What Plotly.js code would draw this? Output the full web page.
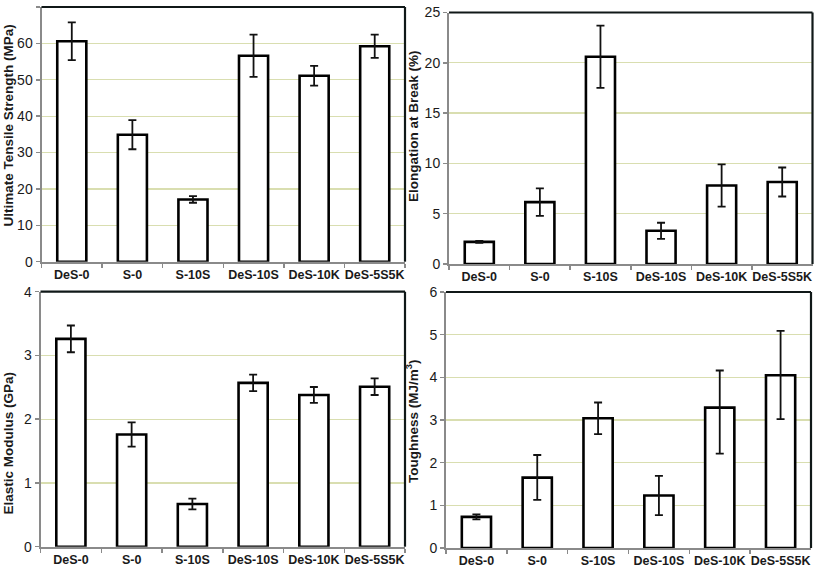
<!DOCTYPE html>
<html><head><meta charset="utf-8">
<script src="https://cdn.plot.ly/plotly-3.0.1.min.js"></script>
<style>html,body{margin:0;padding:0;background:#fff}</style>
</head><body><div id="chart" style="width:817px;height:570px"></div>
<script>
const categories = ['DeS-0','S-0','S-10S','DeS-10S','DeS-10K','DeS-5S5K'];
const strength = [60.6, 34.9, 17.1, 56.6, 51.1, 59.2];
const strengthErr = [5.2, 4.0, 0.9, 5.8, 2.7, 3.2];
const elongation = [2.2, 6.15, 20.6, 3.3, 7.8, 8.15];
const elongationErr = [0.1, 1.37, 3.1, 0.8, 2.1, 1.44];
const modulus = [3.26, 1.76, 0.67, 2.57, 2.38, 2.51];
const modulusErr = [0.21, 0.19, 0.085, 0.13, 0.125, 0.13];
const toughness = [0.73, 1.65, 3.04, 1.23, 3.29, 4.05];
const toughnessErrPlus = [0.06, 0.53, 0.37, 0.46, 0.87, 1.04];
const toughnessErrMinus = [0.06, 0.52, 0.37, 0.46, 1.08, 1.03];

const yTitles = ['Ultimate Tensile Strength (MPa)', 'Elongation at Break (%)', 'Elastic Modulus (GPa)', 'Toughness (MJ/m<sup>3</sup>)'];

const W = 817, H = 570;
// plot boxes in pixels: [left, top, right, bottom]
const boxes = [[41.5,7,405,261.7],[449,12.5,812.5,264],[40.5,291.7,405,546.7],[446,292,811,548]];
const ranges = [[0,70,10],[0,25,5],[0,4,1],[0,6,1]];
const titlePos = [[7.5,126],[413,126],[7.5,443],[412,421]];

function barTrace(vals, errP, errM, i) {
  const s = i === 0 ? '' : String(i+1);
  return {
    type:'bar', x:categories, y:vals, xaxis:'x'+s, yaxis:'y'+s, width:0.48,
    marker:{color:'#ffffff', line:{color:'#000000', width:2.6}},
    error_y:{type:'data', symmetric: errM ? false : true, array:errP, arrayminus: errM || undefined,
      color:'#111111', thickness:1.8, width:4},
    showlegend:false, hoverinfo:'x+y'
  };
}
const data = [
  barTrace(strength, strengthErr, null, 0),
  barTrace(elongation, elongationErr, null, 1),
  barTrace(modulus, modulusErr, null, 2),
  barTrace(toughness, toughnessErrPlus, toughnessErrMinus, 3)
];

const layout = {
  width:W, height:H, margin:{l:0,r:0,t:0,b:0},
  paper_bgcolor:'#fff', plot_bgcolor:'#fff', showlegend:false,
  font:{family:'Liberation Sans, Arial, sans-serif', color:'#1a1a1a'},
  shapes:[], annotations:[]
};
boxes.forEach((b,i)=>{
  const s = i === 0 ? '' : String(i+1);
  const x0=b[0]/W, x1=b[2]/W, y0=1-b[3]/H, y1=1-b[1]/H;
  layout['xaxis'+s] = {
    domain:[x0,x1], anchor:'y'+s, type:'category', tickson:'boundaries', tickangle:0,
    ticks:'outside', ticklen:4, tickcolor:'#8a8a8a', tickwidth:1.5,
    showline:true, linecolor:'#8a8a8a', linewidth:2, showgrid:false,
    tickfont:{size:12.5, weight:'bold', color:'#1a1a1a'}, fixedrange:true
  };
  layout['yaxis'+s] = {
    domain:[y0,y1], anchor:'x'+s, range:[ranges[i][0],ranges[i][1]], dtick:ranges[i][2],
    tick0:0, ticks:'outside', ticklen:4, tickcolor:'#8a8a8a', tickwidth:1.5,
    showline:true, linecolor:'#8a8a8a', linewidth:2, zeroline:false,
    showgrid:true, gridcolor:'#d9deb0', gridwidth:1.3,
    tickfont:{size:14, color:'#1a1a1a'}, fixedrange:true
  };
  layout.shapes.push({type:'line', xref:'paper', yref:'paper', x0:x0, x1:x1, y0:y1, y1:y1, line:{color:'#101818', width:2.2}});
  layout.shapes.push({type:'line', xref:'paper', yref:'paper', x0:x1, x1:x1, y0:y1, y1:y0, line:{color:'#101818', width:2.2}});
  layout.annotations.push({xref:'paper', yref:'paper', x:titlePos[i][0]/W, y:1-titlePos[i][1]/H,
    text:yTitles[i], textangle:-90, showarrow:false, xanchor:'center', yanchor:'middle',
    font:{size:13.5, weight:'bold', color:'#1a1a1a'}});
});

Plotly.newPlot('chart', data, layout, {displayModeBar:false, staticPlot:true});
</script>
</body></html>
